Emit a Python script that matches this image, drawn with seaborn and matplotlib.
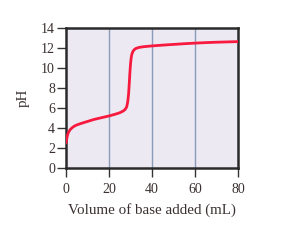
import matplotlib
matplotlib.use("Agg")
import matplotlib.pyplot as plt
import seaborn as sns
import pandas as pd

# titration curve
volume_ml = [0, 0.3, 0.7, 1.2, 2, 3, 4, 5, 7, 10, 13, 16, 20, 23, 25, 26.5, 27.5, 28.2,
             28.7, 29.1, 29.4, 29.7, 30.0, 30.3, 30.6, 31.0, 31.6, 32.5, 34, 36, 40,
             45, 50, 55, 60, 65, 70, 75, 80]
ph_values = [2.5, 2.9, 3.3, 3.6, 3.85, 4.05, 4.2, 4.3, 4.45, 4.65, 4.85, 5.0, 5.2, 5.38, 5.52,
             5.68, 5.85, 6.1, 6.6, 7.4, 8.4, 9.5, 10.4, 11.0, 11.35, 11.6, 11.8, 11.95, 12.05,
             12.12, 12.2, 12.28, 12.35, 12.42, 12.48, 12.53, 12.57, 12.6, 12.63]

x_ticks = [0, 20, 40, 60, 80]
y_ticks = [0, 2, 4, 6, 8, 10, 12, 14]

sns.set_theme(style="ticks")
plt.rcParams["font.family"] = ["Liberation Serif", "DejaVu Serif"]

text_color = "#3a3030"
df = pd.DataFrame({"volume": volume_ml, "pH": ph_values})

fig = plt.figure(figsize=(2.81, 2.47), dpi=100)
ax = fig.add_axes([0.235, 0.32, 0.612, 0.567])
ax.set_facecolor("#ece9f2")

for xv in x_ticks[1:-1]:
    ax.axvline(xv, color="#8a9ab8", linewidth=1.0, zorder=1)

sns.lineplot(data=df, x="volume", y="pH", ax=ax, color="#f8193f", linewidth=2.0, zorder=3)

ax.set_xlim(0, 80)
ax.set_ylim(0, 14)
ax.set_xticks(x_ticks)
ax.set_yticks(y_ticks)
ax.tick_params(axis="both", direction="out", length=6.5, width=1.0, color="#333333",
               labelsize=10, labelcolor=text_color)
ax.tick_params(axis="x", pad=4.5)
ax.tick_params(axis="y", pad=1.5)
for spine in ax.spines.values():
    spine.set_visible(True)
    spine.set_linewidth(1.8)
    spine.set_color("#2a2a2a")

ax.set_xlabel("Volume of base added (mL)", fontsize=10.8, color=text_color, labelpad=5)
ax.set_ylabel("pH", fontsize=10.8, color=text_color, labelpad=8)

fig.savefig("out.png", dpi=100, facecolor="white")
